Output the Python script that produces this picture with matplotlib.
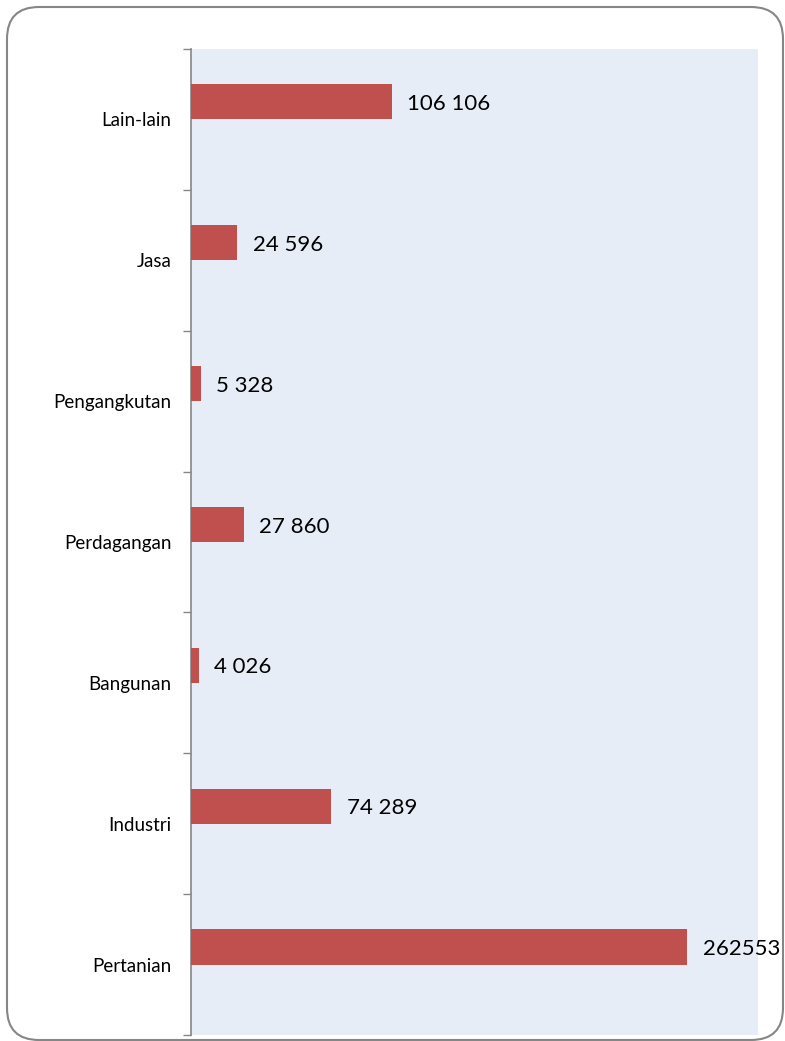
import matplotlib
matplotlib.use('Agg')
import matplotlib.pyplot as plt
from matplotlib.patches import FancyBboxPatch

# Data (bottom to top)
kategori = ['Pertanian', 'Industri', 'Bangunan', 'Perdagangan', 'Pengangkutan', 'Jasa', 'Lain-lain']
nilai = [262553, 74289, 4026, 27860, 5328, 24596, 106106]
label_nilai = ['262553', '74 289', '4 026', '27 860', '5 328', '24 596', '106 106']

plt.rcParams['font.family'] = ['Lato', 'DejaVu Sans']

fig = plt.figure(figsize=(7.85, 10.41), dpi=100)
ax = fig.add_axes([191/785, 6/1041, 567/785, 986/1041])
ax.set_facecolor('#E7EDF7')

pos = list(range(len(kategori)))
ax.barh(pos, nilai, height=0.25, align='edge', color='#C0504D', zorder=3)

for y, v, t in zip(pos, nilai, label_nilai):
    ax.annotate(t, (v, y + 0.11), xytext=(11, 0), textcoords='offset points',
                va='center', ha='left', fontsize=16, color='black', zorder=4)

ax.set_xlim(0, 300000)
ax.set_ylim(-0.5, len(kategori) - 0.5)
ax.set_xticks([])
ax.set_yticks(pos)
ax.set_yticklabels(kategori, fontsize=13.5)
ax.set_yticks([p - 0.5 for p in pos] + [len(kategori) - 0.5], minor=True)
ax.tick_params(axis='y', which='major', length=0, pad=14)
ax.tick_params(axis='y', which='minor', length=6, color='#868686', width=1)

for s in ['top', 'right', 'bottom']:
    ax.spines[s].set_visible(False)
ax.spines['left'].set_color('#868686')
ax.spines['left'].set_linewidth(1.2)

# rounded border around the chart
box = FancyBboxPatch((0.07, 0.01), 7.76, 10.33, boxstyle='round,pad=0,rounding_size=0.32',
                     transform=fig.dpi_scale_trans, facecolor='none', edgecolor='#868686',
                     linewidth=1.5, clip_on=False)
fig.patches.append(box)

fig.savefig('out.png', dpi=100)
